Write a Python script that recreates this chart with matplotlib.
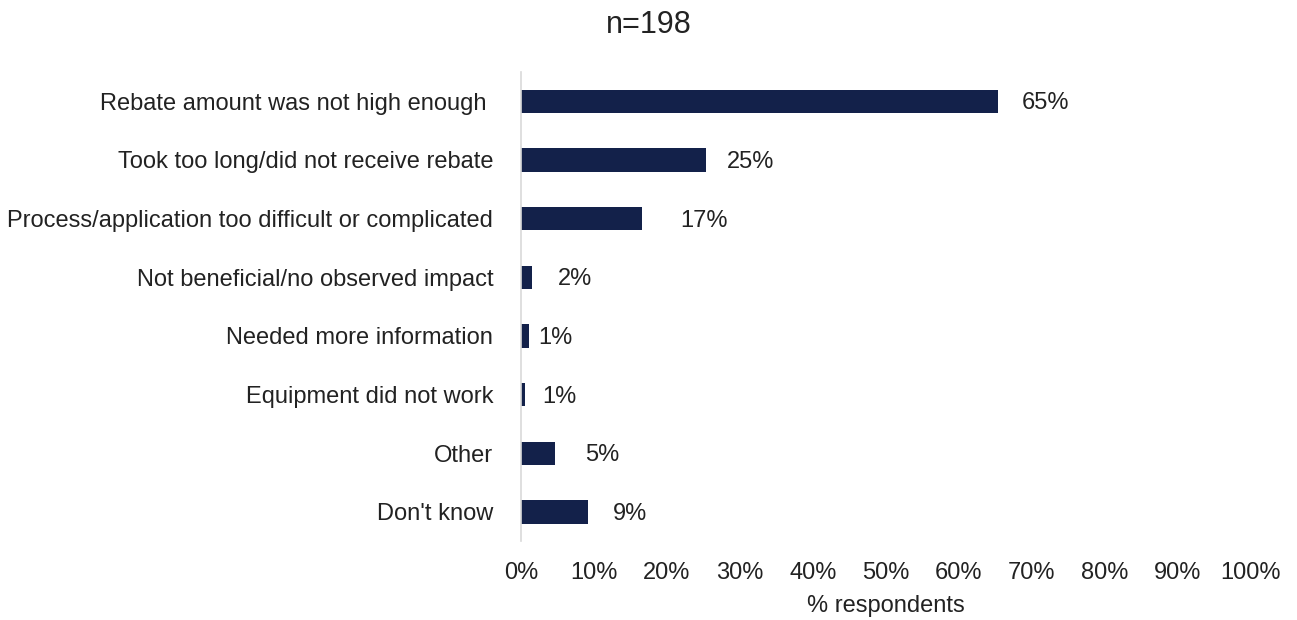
import matplotlib.pyplot as plt

plt.rcParams['font.family'] = ['Liberation Sans', 'DejaVu Sans']

# Reasons for dissatisfaction, top to bottom
reasons = [
    "Rebate amount was not high enough ",
    "Took too long/did not receive rebate",
    "Process/application too difficult or complicated",
    "Not beneficial/no observed impact",
    "Needed more information",
    "Equipment did not work",
    "Other",
    "Don't know",
]
pct = [65.3, 25.4, 16.6, 1.5, 1.1, 0.6, 4.6, 9.2]
tick_vals = [0, 10, 20, 30, 40, 50, 60, 70, 80, 90, 100]

# gap (px) between each bar end and its value label
label_gap = [24, 20, 38, 26, 9, 17, 31, 25]

bar_color = '#13214a'
text_color = '#222222'
fs = 17

fig = plt.figure(figsize=(12.97, 6.2), dpi=100)
ax = fig.add_axes([0.4017, 0.127, 0.5628, 0.757])

ypos = list(range(len(reasons)))
ax.barh(ypos, pct, height=0.4, color=bar_color)
for y, v, g in zip(ypos, pct, label_gap):
    ax.annotate(f"{v:.0f}%", xy=(v, y), xytext=(g, -2), textcoords='offset pixels',
                ha='left', va='center', fontsize=fs, color=text_color)

ax.set_ylim(len(reasons) - 0.5, -0.5)
ax.set_yticks(ypos)
ax.set_yticklabels(reasons, fontsize=fs, color=text_color)
ax.set_xlim(0, 100)
ax.set_xticks(tick_vals)
ax.set_xticklabels([f"{t}%" for t in tick_vals], fontsize=fs, color=text_color)
ax.tick_params(axis='both', length=0)
ax.tick_params(axis='y', pad=20)
ax.tick_params(axis='x', pad=15)
ax.set_xlabel("% respondents", fontsize=fs, color=text_color, labelpad=8)

for side in ['top', 'right', 'bottom']:
    ax.spines[side].set_visible(False)
ax.spines['left'].set_color('#d9d9d9')
ax.spines['left'].set_linewidth(1.2)

fig.text(0.5, 0.96, "n=198", ha='center', va='center', fontsize=22, color=text_color)

plt.savefig("out.png", dpi=100)
